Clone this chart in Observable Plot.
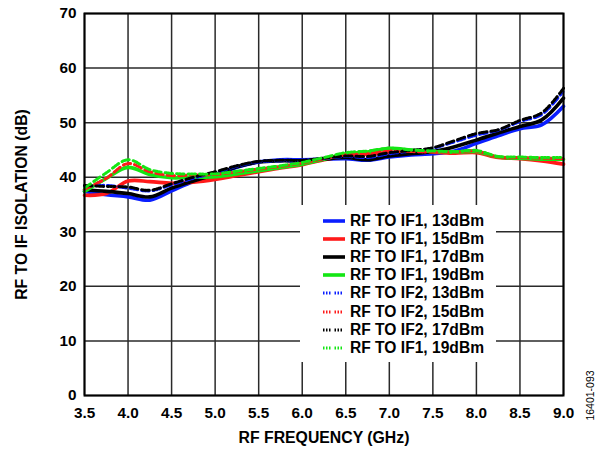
<!DOCTYPE html>
<html>
<head>
<meta charset="utf-8">
<script src="https://cdn.jsdelivr.net/npm/d3@7"></script>
<script src="https://cdn.jsdelivr.net/npm/@observablehq/plot@0.6"></script>
<style>
  body { margin: 0; background: #fff; }
  #chart { position: relative; width: 599px; height: 451px; font-family: "Liberation Sans", Arial, sans-serif; }
  #legend { position: absolute; left: 300px; top: 205px; width: 196px; height: 157px; background: #fff; box-sizing: border-box; padding-top: 6.6px; }
  .row { height: 18.2px; line-height: 18.2px; display: flex; align-items: center; font-weight: bold; font-size: 15.6px; color: #000; white-space: nowrap; }
  .row svg { margin-left: 23px; margin-right: 5px; flex: none; }
</style>
</head>
<body>
<div id="chart"></div>
<script>
// ---- data ----
const freq = [3.5, 3.75, 4.0, 4.25, 4.5, 4.75, 5.0, 5.25, 5.5, 5.75, 6.0, 6.25, 6.5, 6.75, 7.0, 7.25, 7.5, 7.75, 8.0, 8.25, 8.5, 8.75, 9.0];

const if1_13 = [37.4, 36.8, 36.4, 35.8, 37.5, 39.2, 40.4, 41.8, 42.8, 43.2, 43.2, 43.3, 43.4, 43.1, 43.7, 44.1, 44.3, 44.8, 46.2, 47.6, 48.9, 49.6, 53.0];
const if1_15 = [36.7, 37.0, 39.3, 39.2, 38.9, 39.1, 39.6, 40.3, 41.0, 41.7, 42.3, 43.2, 43.9, 44.2, 44.5, 44.6, 44.6, 44.4, 44.5, 43.6, 43.4, 43.0, 42.4];
const if1_17 = [37.7, 37.4, 37.0, 36.4, 38.0, 39.3, 40.5, 41.9, 42.8, 43.0, 43.0, 43.3, 43.6, 43.2, 43.9, 44.3, 44.7, 45.6, 46.8, 48.1, 49.3, 50.5, 54.5];
const if1_19 = [37.4, 39.8, 41.8, 40.5, 39.9, 40.0, 40.1, 40.6, 41.2, 41.8, 42.4, 43.3, 44.3, 44.6, 45.3, 45.0, 44.7, 44.6, 44.7, 43.7, 43.5, 43.3, 43.3];
const if2_13 = [38.3, 38.5, 38.0, 37.5, 38.6, 39.8, 40.8, 42.0, 42.8, 43.0, 43.0, 43.4, 43.8, 43.6, 44.3, 44.8, 45.3, 46.5, 47.7, 48.6, 50.2, 51.5, 55.8];
const if2_15 = [37.8, 39.8, 42.5, 41.0, 40.3, 40.4, 40.5, 41.0, 41.5, 42.0, 42.6, 43.4, 44.1, 44.3, 44.8, 44.7, 44.6, 44.6, 44.8, 43.7, 43.6, 43.5, 43.4];
const if2_17 = [38.5, 38.3, 38.2, 37.6, 38.8, 40.0, 41.0, 42.1, 42.9, 43.1, 43.1, 43.5, 43.9, 43.8, 44.5, 44.9, 45.4, 46.7, 48.0, 48.7, 50.4, 51.8, 56.3];
const if2_19 = [38.0, 40.8, 43.2, 41.4, 40.7, 40.6, 40.6, 41.1, 41.6, 42.1, 42.7, 43.6, 44.5, 44.8, 45.3, 45.0, 44.8, 44.7, 44.9, 43.8, 43.7, 43.6, 43.6];

const seriesNames = ["RF TO IF1, 13dBm", "RF TO IF1, 15dBm", "RF TO IF1, 17dBm", "RF TO IF1, 19dBm",
                     "RF TO IF2, 13dBm", "RF TO IF2, 15dBm", "RF TO IF2, 17dBm", "RF TO IF1, 19dBm"];
const seriesValues = [if1_13, if1_15, if1_17, if1_19, if2_13, if2_15, if2_17, if2_19];
const seriesColors = ["#0a1eff", "#ff1a1a", "#000000", "#14e614", "#0a1eff", "#ff1a1a", "#000000", "#14e614"];
const seriesDotted = [false, false, false, false, true, true, true, true];

const xTicks = [3.5, 4.0, 4.5, 5.0, 5.5, 6.0, 6.5, 7.0, 7.5, 8.0, 8.5, 9.0];
const yTicks = [0, 10, 20, 30, 40, 50, 60, 70];
const xTitle = "RF FREQUENCY (GHz)";
const yTitle = "RF TO IF ISOLATION (dB)";
const figId = "16401-093";

// ---- build ----
const dotDash = "1.5,1.5,1.5,1.5,1.5,4";
const lineMarks = seriesValues.map((vals, i) => {
  const rows = freq.map((f, j) => ({ f, v: vals[j] }));
  return Plot.line(rows, {
    x: "f", y: "v",
    stroke: seriesColors[i],
    strokeWidth: seriesDotted[i] ? 3 : 3.6,
    strokeDasharray: seriesDotted[i] ? dotDash : null,
    curve: "catmull-rom"
  });
});

const font = '"Liberation Sans", Arial, sans-serif';
const chart = Plot.plot({
  width: 599,
  height: 451,
  marginLeft: 84,
  marginRight: 36,
  marginTop: 13,
  marginBottom: 56,
  x: { domain: [3.5, 9.0] },
  y: { domain: [0, 70] },
  style: { fontFamily: font, fontWeight: "bold", fontSize: "15px", color: "#000", background: "#fff", overflow: "visible" },
  marks: [
    Plot.gridX(xTicks, { stroke: "#2a2a2a", strokeOpacity: 1, strokeWidth: 1.5 }),
    Plot.gridY(yTicks, { stroke: "#2a2a2a", strokeOpacity: 1, strokeWidth: 1.5 }),
    ...lineMarks,
    Plot.frame({ stroke: "#000", strokeWidth: 2 }),
    Plot.axisX(xTicks, { tickSize: 0, tickPadding: 12, tickFormat: d => d.toFixed(1), label: null, fontSize: 15.3, fontWeight: "bold" }),
    Plot.axisY(yTicks, { tickSize: 0, tickPadding: 8, label: null, fontSize: 15.3, fontWeight: "bold" }),
    Plot.text([xTitle], { text: d => d, frameAnchor: "bottom", textAnchor: "middle", dy: 47, fontSize: 15.8, fontWeight: "bold", fill: "#000" }),
    Plot.text([yTitle], { text: d => d, frameAnchor: "left", textAnchor: "middle", rotate: -90, dx: -63, fontSize: 15.8, fontWeight: "bold", fill: "#000" }),
    Plot.text([figId], { text: d => d, frameAnchor: "bottom-right", textAnchor: "middle", rotate: -90, dx: 30, dy: 0, fontSize: 10.5, fontWeight: "normal", fill: "#000" })
  ]
});

const container = document.getElementById("chart");
container.appendChild(chart);

// legend overlay
const legend = document.createElement("div");
legend.id = "legend";
seriesNames.forEach((name, i) => {
  const row = document.createElement("div");
  row.className = "row";
  const sw = d3.create("svg").attr("width", 22).attr("height", 8);
  sw.append("line").attr("x1", 0).attr("x2", 22).attr("y1", 4).attr("y2", 4)
    .attr("stroke", seriesColors[i])
    .attr("stroke-width", seriesDotted[i] ? 3 : 3.6)
    .attr("stroke-dasharray", seriesDotted[i] ? dotDash : null);
  row.appendChild(sw.node());
  const t = document.createElement("span");
  t.textContent = name;
  row.appendChild(t);
  legend.appendChild(row);
});
container.appendChild(legend);
</script>
</body>
</html>
